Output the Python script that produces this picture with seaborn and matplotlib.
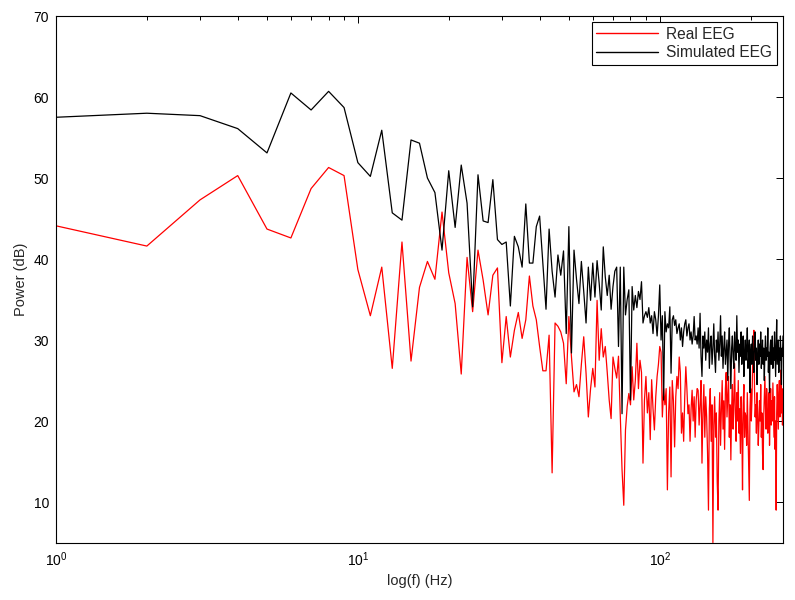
import numpy as np
import pandas as pd
import matplotlib
matplotlib.use("Agg")
import matplotlib.pyplot as plt
import seaborn as sns

freqs = list(range(1, 257))

real_eeg = [
    44.1, 41.6, 47.3, 50.3, 43.7, 42.6, 48.7, 51.3, 50.3, 38.7,
    33.0, 39.0, 26.5, 42.1, 27.4, 36.5, 39.7, 37.5, 45.8, 38.3,
    34.5, 25.8, 40.2, 33.5, 41.1, 37.4, 33.1, 38.0, 38.9, 27.2,
    32.9, 27.9, 31.2, 33.4, 30.2, 32.5, 37.9, 34.2, 32.5, 29.2,
    26.2, 26.2, 30.6, 13.6, 32.1, 31.7, 31.0, 29.6, 24.6, 32.9,
    27.9, 23.6, 24.5, 23.0, 27.0, 30.4, 25.9, 20.5, 24.0, 26.5,
    24.2, 34.9, 27.5, 31.4, 27.9, 29.2, 26.0, 22.6, 20.3, 27.9,
    26.5, 25.3, 28.0, 20.7, 14.0, 9.6, 18.9, 21.8, 23.4, 22.0,
    26.7, 22.6, 25.0, 29.6, 24.0, 27.5, 26.0, 14.8, 22.6, 25.5,
    21.0, 23.5, 17.7, 25.1, 21.5, 18.9, 23.0, 25.5, 27.0, 29.2,
    28.5, 20.5, 24.0, 22.0, 24.0, 11.5, 21.0, 24.2, 13.1, 25.0,
    22.5, 16.8, 23.0, 25.5, 24.0, 27.9, 26.0, 18.5, 21.0, 17.5,
    23.0, 26.7, 24.0, 20.9, 22.0, 17.5, 21.5, 23.8, 20.0, 23.0,
    18.0, 22.5, 24.0,
    23.8, 19.5, 22.0, 25.0, 14.8, 21.0, 24.5, 18.0, 23.0, 20.5,
    16.0, 9.0, 21.5, 24.0, 17.5, 22.0, 5.0, 19.5, 23.0, 18.0,
    21.0, 12.5, 9.0, 20.0, 23.5, 17.0, 21.4, 25.0, 19.0, 22.5,
    16.5, 24.0, 26.0, 20.5, 23.0, 25.5, 18.0, 22.0, 15.2, 21.5,
    24.5, 19.0, 22.5, 27.1, 21.0, 17.5, 23.5, 20.0, 25.0, 18.5,
    21.5, 16.0, 23.0, 19.5, 11.5, 22.0, 24.5, 18.0, 21.0, 20.5,
    17.0, 23.5, 19.0, 14.0, 10.2, 21.5, 24.0, 20.0, 22.5, 26.5,
    28.5, 31.2, 24.0, 20.5, 22.0, 18.5, 23.5, 21.0, 17.0, 19.5,
    22.5, 20.0, 24.5, 18.0, 21.0, 16.0, 14.0, 20.5, 23.0, 25.5,
    21.5, 19.0, 24.0, 22.0, 18.5, 20.5, 23.5, 17.0, 21.0, 24.0,
    19.5, 22.5, 20.0, 24.7, 21.5, 18.0, 23.0, 16.5, 20.0, 9.0,
    21.0, 24.5, 22.0, 19.0, 23.5, 25.0, 20.5, 22.0, 26.3, 21.0,
    24.0, 19.5, 23.0,
]

simulated_eeg = [
    57.5, 58.0, 57.7, 56.1, 53.1, 60.5, 58.4, 60.7, 58.7, 51.9,
    50.2, 55.9, 45.7, 44.8, 54.7, 54.3, 50.0, 48.2, 41.1, 50.9,
    43.9, 51.6, 46.9, 34.1, 50.4, 44.7, 44.5, 49.8, 42.4, 41.8,
    42.1, 34.2, 42.8, 41.5, 39.0, 46.8, 39.5, 39.5, 44.0, 45.3,
    39.5, 33.8, 43.7, 38.5, 35.3, 40.5, 38.0, 41.0, 30.8, 44.0,
    28.4, 41.1, 37.5, 34.5, 39.7, 36.0, 32.1, 39.0, 34.9, 39.5,
    35.3, 39.8, 37.0, 33.7, 41.5, 37.8, 35.5, 38.0, 33.8, 36.6,
    38.5, 39.0, 29.2, 39.0, 20.9, 39.0, 33.1, 35.0, 36.2, 22.6,
    36.6, 33.7, 35.5, 34.0, 36.0, 35.0, 37.2, 32.1, 33.0, 33.5,
    32.8, 34.0, 32.1, 33.0, 30.8, 33.5, 32.5, 30.5, 33.0, 36.8,
    30.0, 33.0, 22.6, 33.5, 31.0, 32.0, 31.5, 34.1, 25.9, 32.5,
    33.0, 31.8, 32.5, 30.8, 31.5, 32.0, 30.0, 31.5, 29.2, 31.0,
    32.0, 32.5, 30.5, 31.5, 32.0, 30.0, 31.0, 29.5, 30.5, 32.9,
    30.0, 30.5, 29.5,
    31.5, 29.0, 33.3, 28.0, 25.5, 30.5, 29.0, 31.0, 27.5, 30.0,
    28.5, 31.5, 26.5, 29.5, 30.5, 27.0, 29.0, 32.0, 28.0, 26.0,
    30.0, 28.5, 31.0, 27.5, 29.5, 33.0, 28.0, 30.5, 26.5, 29.0,
    31.0, 27.0, 28.5, 30.0, 25.0, 29.5, 31.5, 27.5, 24.0, 29.0,
    30.5, 28.0, 26.5, 31.0, 29.0, 27.5, 33.0, 28.5, 30.0, 26.0,
    29.5, 28.0, 31.0, 27.0, 29.5, 30.5, 25.5, 28.5, 30.0, 27.5,
    29.0, 31.5, 26.5, 28.0, 30.0, 23.5, 28.5, 29.5, 27.0, 30.5,
    28.0, 26.0, 29.5, 31.0, 27.5, 29.0, 24.5, 28.0, 30.0, 27.0,
    29.5, 28.0, 31.0, 26.5, 28.5, 30.0, 27.0, 29.0, 25.0, 28.5,
    30.5, 27.5, 29.0, 28.0, 31.5, 26.0, 28.5, 23.5, 29.0, 30.0,
    27.0, 28.5, 30.5, 26.5, 29.0, 27.5, 31.0, 28.0, 25.5, 29.5,
    32.5, 27.0, 28.5, 30.0, 26.0, 29.0, 27.5, 30.5, 28.0, 24.5,
    29.0, 28.0, 30.5,
]

series_names = ["Real EEG", "Simulated EEG"]
series_colors = ["#ff0000", "#000000"]

df = pd.DataFrame({
    "f": freqs * 2,
    "power": real_eeg + simulated_eeg,
    "series": [series_names[0]] * len(freqs) + [series_names[1]] * len(freqs),
})

sns.set_style("white")
plt.rcParams["font.family"] = ["Liberation Sans", "DejaVu Sans"]

fig = plt.figure(figsize=(7.95, 6.0), dpi=100)
ax = fig.add_axes([0.0704, 0.0958, 0.9145, 0.8775])

sns.lineplot(data=df, x="f", y="power", hue="series", hue_order=series_names,
             palette=series_colors, linewidth=0.9, ax=ax, sort=False,
             estimator=None)

ax.set_xscale("log")
ax.set_xlim(1, 256)
ax.set_ylim(5, 70)
ax.set_yticks([10, 20, 30, 40, 50, 60, 70])
ax.set_xlabel("log(f) (Hz)", fontsize=10.5, labelpad=3)
ax.set_ylabel("Power (dB)", fontsize=10.5)
ax.tick_params(which="both", direction="in", top=True, right=True,
               labelsize=10, colors="black")
ax.tick_params(axis="x", which="both", pad=6)
ax.tick_params(axis="y", which="both", pad=5)
ax.tick_params(which="major", length=5, width=0.7)
ax.tick_params(which="minor", length=3, width=0.7)
for s in ax.spines.values():
    s.set_color("black")
    s.set_linewidth(0.8)

leg = ax.legend(loc="upper right", fontsize=11.2, frameon=True, fancybox=False,
                framealpha=1, edgecolor="black", handlelength=4.0,
                borderaxespad=0.4, borderpad=0.3, labelspacing=0.2,
                handletextpad=0.5)
leg.get_frame().set_linewidth(0.8)
for line in leg.get_lines():
    line.set_linewidth(1.0)

fig.savefig("out.png", dpi=100)
